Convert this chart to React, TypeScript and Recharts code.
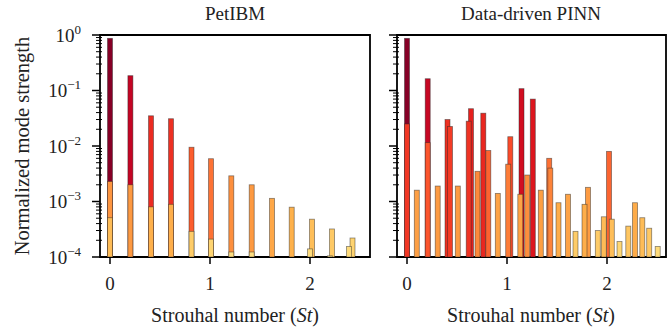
import React from "react"
import { ScatterChart, Scatter, XAxis, YAxis, ReferenceArea } from "recharts"

// mode positions (St) and normalized strengths
const petibmSt = [
  0, 0, 0,
  0.204, 0.204,
  0.41, 0.41,
  0.61, 0.61,
  0.815, 0.815,
  1.01, 1.01,
  1.213, 1.213,
  1.417, 1.417,
  1.62,
  1.817,
  2.02, 2.0,
  2.22, 2.2,
  2.39, 2.425,
]
const petibmStrength = [
  0.87, 0.0023, 0.00051,
  0.185, 0.002,
  0.035, 0.0008,
  0.031, 0.00089,
  0.0095, 0.00029,
  0.0059, 0.00021,
  0.0029, 0.000123,
  0.002, 0.000123,
  0.00114,
  0.00079,
  0.00048, 0.00014,
  0.00032, 0.000105,
  0.000155, 0.00022,
]

const pinnSt = [
  0, 0, 0.098, 0.207, 0.207, 0.307, 0.405, 0.43, 0.508, 0.617, 0.64, 0.705,
  0.763, 0.813, 0.908, 1.012, 1.033, 1.133, 1.145, 1.202, 1.258, 1.338,
  1.422, 1.433, 1.515, 1.61, 1.685, 1.775, 1.81, 1.908, 1.968, 2.02, 2.048,
  2.125, 2.213, 2.28, 2.353, 2.422, 2.507,
]
const pinnStrength = [
  0.87, 0.025, 0.0016, 0.163, 0.0115, 0.0019, 0.03, 0.0225, 0.0019, 0.028, 0.047, 0.0035,
  0.039, 0.0083, 0.0014, 0.0047, 0.0147, 0.00135, 0.108, 0.003, 0.07, 0.0016,
  0.006, 0.004, 0.00095, 0.00135, 0.00029, 0.00089, 0.0018, 0.0003, 0.00053, 0.008, 0.00048,
  0.00019, 0.00036, 0.00095, 0.00051, 0.00033, 0.000155,
]

const stTicks = [0, 1, 2]
const decades = [1e-4, 1e-3, 1e-2, 1e-1, 1]

const FONT = "'Liberation Serif', 'DejaVu Serif', serif"
const YLORRD = ["#ffffcc", "#ffeda0", "#fed976", "#feb24c", "#fd8d3c", "#fc4e2a", "#e31a1c", "#bd0026", "#800026"]
const BAR_W = 5
const PLOT_TOP = 35
const PLOT_BOTTOM = 257
const X_AXIS_H = 329 - PLOT_BOTTOM

const yTicks: number[] = []
decades.forEach((d) => {
  yTicks.push(d)
  if (d < 1) for (let m = 2; m <= 9; m++) yTicks.push(m * d)
})

function hex(c: string) {
  return [1, 3, 5].map((i) => parseInt(c.slice(i, i + 2), 16))
}

// YlOrRd on a log scale, 1e-5 .. 1
function colorFor(v: number) {
  let t = (Math.log10(v) + 5) / 5
  t = Math.min(1, Math.max(0, t))
  const p = t * (YLORRD.length - 1)
  const i = Math.min(YLORRD.length - 2, Math.floor(p))
  const f = p - i
  const a = hex(YLORRD[i])
  const b = hex(YLORRD[i + 1])
  const rgb = a.map((c, k) => Math.round(c + (b[k] - c) * f))
  return `rgb(${rgb.join(",")})`
}

function toRows(st: number[], strength: number[]) {
  // tallest first so the shorter bars sit on top
  return st.map((s, i) => ({ st: s, strength: strength[i] })).sort((a, b) => b.strength - a.strength)
}

const petibmData = toRows(petibmSt, petibmStrength)
const pinnData = toRows(pinnSt, pinnStrength)

function ModeBar(props: any) {
  const { cx, cy, payload } = props
  if (cx == null || cy == null) return null
  return (
    <rect
      x={cx - BAR_W / 2}
      y={cy}
      width={BAR_W}
      height={Math.max(0, PLOT_BOTTOM - cy)}
      fill={colorFor(payload.strength)}
      stroke="rgba(40,40,40,0.55)"
      strokeWidth={0.8}
    />
  )
}

function LogTick(props: any) {
  const { x, y, payload, showLabel } = props
  const lg = Math.log10(payload.value)
  const exp = Math.round(lg)
  const major = Math.abs(lg - exp) < 1e-6
  return (
    <g>
      <line x1={x - (major ? 8 : 4)} x2={major ? x : x + 2} y1={y} y2={y} stroke="#000" strokeWidth={major ? 1.5 : 1} />
      {major && showLabel && (
        <text x={x - 19} y={y} dy="0.35em" textAnchor="end" fontFamily={FONT} fontSize={19} fill="#222">
          10
          <tspan dy={-8} fontSize={13}>
            {exp < 0 ? "\u2212" + -exp : String(exp)}
          </tspan>
        </text>
      )}
    </g>
  )
}

function StTick(props: any) {
  const { x, y, payload } = props
  return (
    <g>
      <line x1={x} x2={x} y1={y} y2={y + 7} stroke="#000" strokeWidth={1.5} />
      <text x={x} y={y + 33} textAnchor="middle" fontFamily={FONT} fontSize={19} fill="#222">
        {payload.value}
      </text>
    </g>
  )
}

function Panel({ data, width, yWidth, right, xMax, showLabels }: any) {
  return (
    <ScatterChart width={width} height={329} margin={{ top: PLOT_TOP, right, bottom: 0, left: 0 }}>
      <XAxis
        dataKey="st"
        type="number"
        domain={[-0.1, xMax]}
        allowDataOverflow
        ticks={stTicks}
        interval={0}
        height={X_AXIS_H}
        axisLine={false}
        tickLine={false}
        tickSize={0}
        tickMargin={0}
        tick={(p: any) => <StTick {...p} />}
      />
      <YAxis
        dataKey="strength"
        type="number"
        scale="log"
        domain={[1e-4, 1]}
        allowDataOverflow
        ticks={yTicks}
        interval={0}
        width={yWidth}
        axisLine={false}
        tickLine={false}
        tickSize={0}
        tickMargin={0}
        tick={(p: any) => <LogTick {...p} showLabel={showLabels} />}
      />
      <Scatter data={data} shape={ModeBar} isAnimationActive={false} />
      <ReferenceArea x1={-0.1} x2={xMax} y1={1e-4} y2={1} fill="none" stroke="#000" strokeWidth={1.8} strokeOpacity={1} />
    </ScatterChart>
  )
}

const textStyle: React.CSSProperties = {
  position: "absolute",
  fontFamily: FONT,
  fontSize: 19,
  lineHeight: 1,
  whiteSpace: "nowrap",
  color: "#222",
  transform: "translateX(-50%)",
}

export default function App() {
  return (
    <div style={{ position: "absolute", left: 0, top: 0, width: 667, height: 329, background: "#fff", overflow: "hidden" }}>
      <div style={{ position: "absolute", left: 0, top: 0 }}>
        <Panel data={petibmData} width={380} yWidth={100} right={10} xMax={2.6} showLabels />
      </div>
      <div style={{ position: "absolute", left: 380, top: 0 }}>
        <Panel data={pinnData} width={287} yWidth={17} right={1} xMax={2.59} showLabels={false} />
      </div>
      <div style={{ ...textStyle, left: 235, top: 4 }}>PetIBM</div>
      <div style={{ ...textStyle, left: 531, top: 4 }}>Data-driven PINN</div>
      <div style={{ ...textStyle, left: 235, top: 305, fontSize: 20 }}>
        Strouhal number (<i>St</i>)
      </div>
      <div style={{ ...textStyle, left: 531, top: 305, fontSize: 20 }}>
        Strouhal number (<i>St</i>)
      </div>
      <div style={{ ...textStyle, left: 22, top: 146, fontSize: 20.5, transform: "translate(-50%, -50%) rotate(-90deg)" }}>
        Normalized mode strength
      </div>
    </div>
  )
}
